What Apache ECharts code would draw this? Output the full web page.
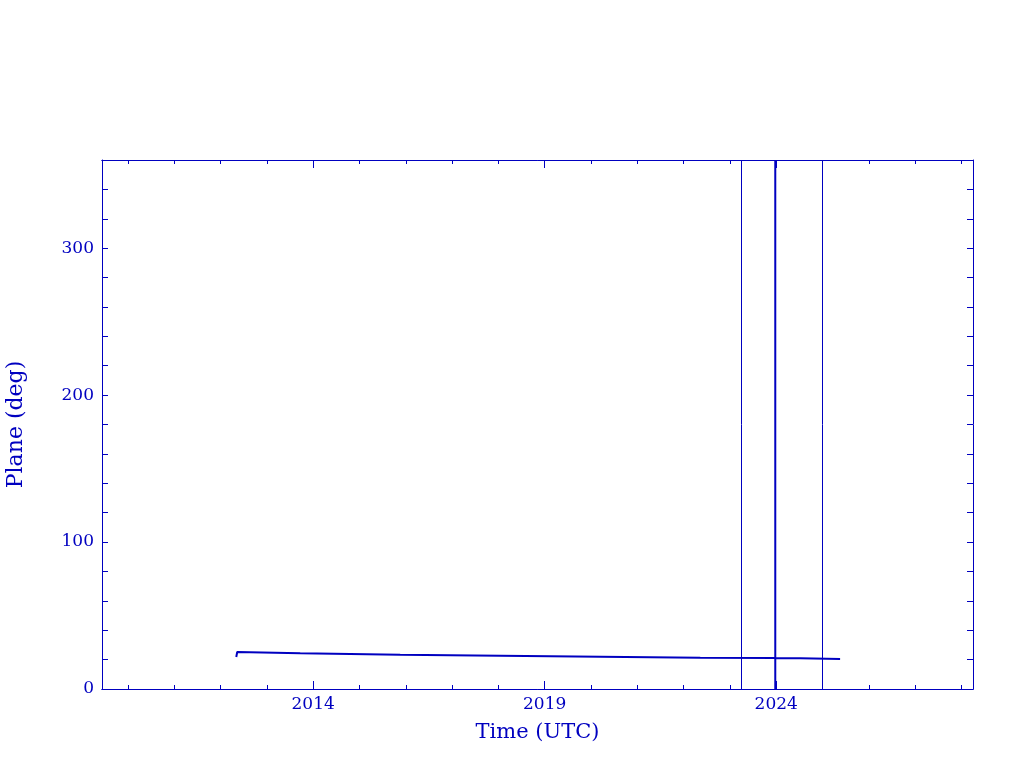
<!DOCTYPE html>
<html>
<head>
<meta charset="utf-8">
<script src="https://cdn.jsdelivr.net/npm/echarts@6/dist/echarts.min.js"></script>
<style>html,body{margin:0;padding:0;background:#fff}#c{width:1024px;height:768px}</style>
</head>
<body>
<div id="c"></div>
<script>
// Data
var years = [2012.34, 2012.36, 2013.72, 2015.88, 2018.04, 2020.20, 2022.36, 2023.98, 2023.98, 2023.98, 2023.98, 2024.52, 2025.38];
var plane = [21.8, 25.2, 24.3, 23.3, 22.7, 22.0, 21.3, 21.1, 360, 0, 21.0, 20.9, 20.4];
var markerYears = [2023.24, 2025.0];
var majorYears = [2014, 2019, 2024];
var minorYears = [2010, 2011, 2012, 2013, 2014, 2015, 2016, 2017, 2018, 2019, 2020, 2021, 2022, 2023, 2024, 2025, 2026, 2027, 2028];
var yTicks = [0, 20, 40, 60, 80, 100, 120, 140, 160, 180, 200, 220, 240, 260, 280, 300, 320, 340, 360];
var yLabels = [0, 100, 200, 300];
var xRange = [2009.44, 2028.25];
var yRange = [0, 360];

var C = '#0000c0';
var FONT = 'DejaVu Serif';
var pts = years.map(function (y, i) { return [y, plane[i]]; });

function xAx(pos, ticks, len, showLabel, name) {
  return {
    type: 'value', position: pos, min: xRange[0], max: xRange[1],
    splitLine: {show: false},
    axisLine: {show: true, onZero: false, lineStyle: {color: C, width: 1}},
    axisTick: {show: true, inside: true, length: len, customValues: ticks, lineStyle: {color: C, width: 1}},
    axisLabel: {show: showLabel, color: C, fontFamily: FONT, fontSize: 17, margin: 7,
      customValues: majorYears, formatter: function (v) { return String(v); }},
    name: name || '', nameLocation: 'middle', nameGap: 33,
    nameTextStyle: {color: C, fontFamily: FONT, fontSize: 21}
  };
}
function yAx(pos, showLabel, name) {
  return {
    type: 'value', position: pos, min: yRange[0], max: yRange[1],
    splitLine: {show: false},
    axisLine: {show: true, onZero: false, lineStyle: {color: C, width: 1}},
    axisTick: {show: true, inside: true, length: 6, customValues: yTicks, lineStyle: {color: C, width: 1}},
    axisLabel: {show: showLabel, color: C, fontFamily: FONT, fontSize: 17, margin: 8,
      customValues: yLabels, formatter: function (v) { return String(v); }},
    name: name || '', nameLocation: 'middle', nameGap: 75, nameRotate: 90,
    nameTextStyle: {color: C, fontFamily: FONT, fontSize: 22}
  };
}

var chart = echarts.init(document.getElementById('c'), null, {renderer: 'canvas'});
chart.setOption({
  animation: false,
  backgroundColor: '#ffffff',
  grid: {left: 102, right: 51, top: 160, bottom: 79, containLabel: false, outerBoundsMode: 'none'},
  xAxis: [
    xAx('bottom', majorYears, 8, true, 'Time (UTC)'),
    xAx('bottom', minorYears, 4, false),
    xAx('top', majorYears, 8, false),
    xAx('top', minorYears, 4, false)
  ],
  yAxis: [
    yAx('left', true, 'Plane (deg)'),
    yAx('right', false)
  ],
  series: [{
    type: 'line', xAxisIndex: 0, yAxisIndex: 0, data: pts,
    showSymbol: false, symbol: 'none',
    lineStyle: {color: C, width: 2},
    markLine: {
      silent: true, symbol: ['none', 'none'], label: {show: false},
      lineStyle: {color: C, width: 1, type: 'solid'},
      data: markerYears.map(function (y) { return {xAxis: y}; })
    }
  }]
});
</script>
</body>
</html>
